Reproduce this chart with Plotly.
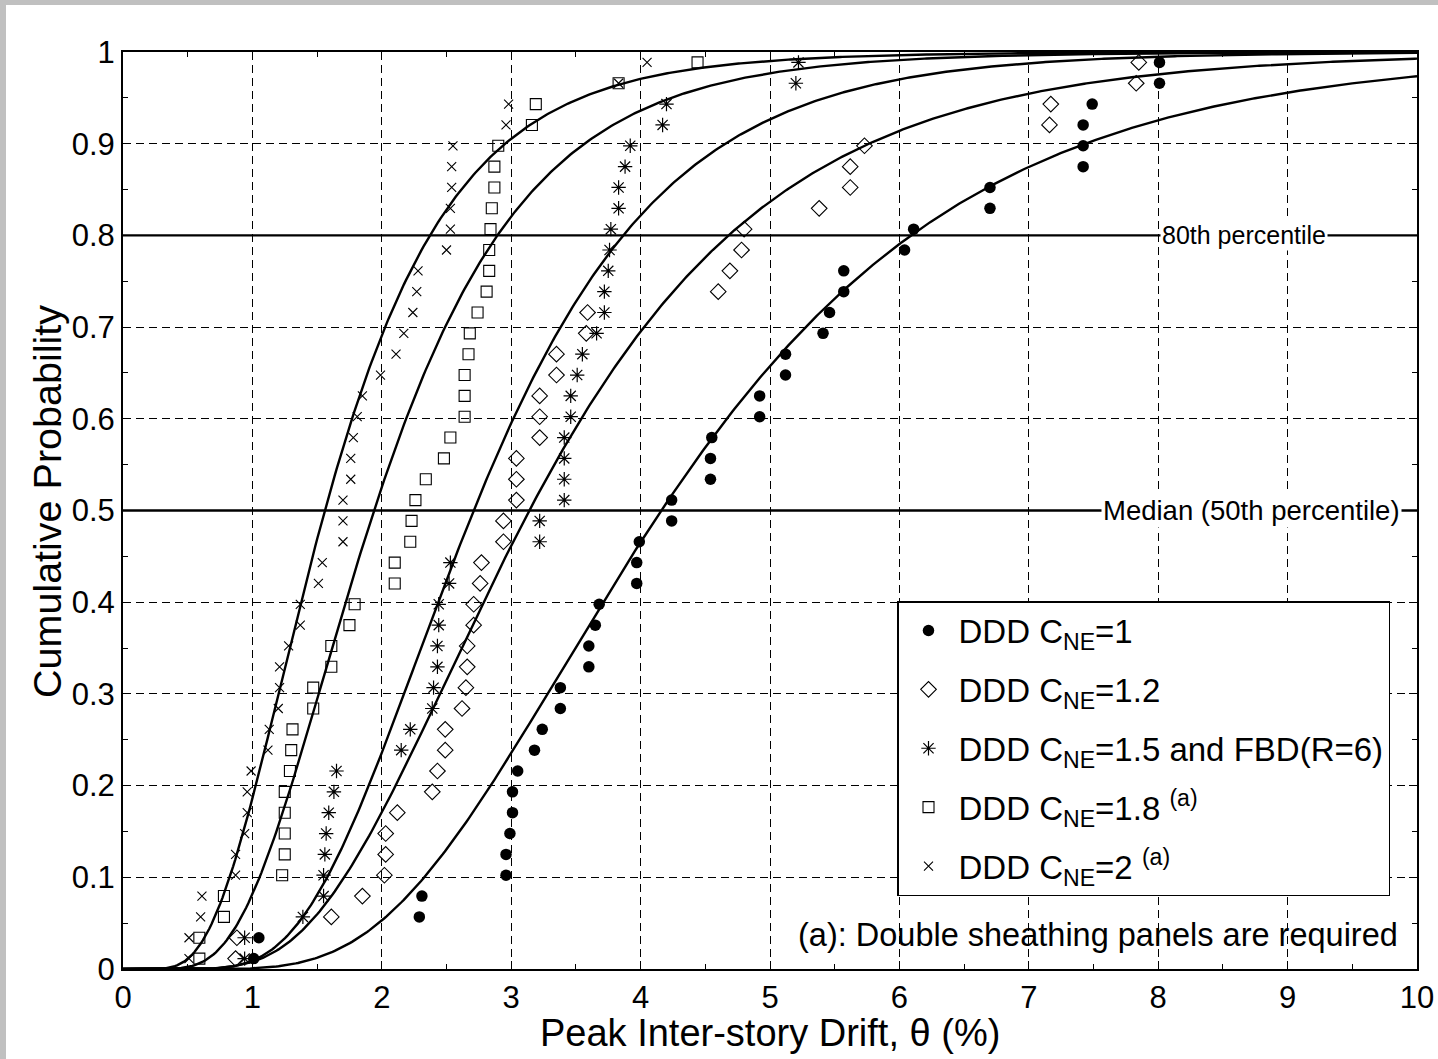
import math
import numpy as np
import plotly.graph_objects as go

# Peak inter-story drift (%) from each of the 44 records, sorted, per design case
drift_cne_1 = [1.01, 1.05, 2.29, 2.31, 2.96, 2.96, 2.99, 3.01, 3.01, 3.05, 3.18, 3.24,
               3.38, 3.38, 3.60, 3.60, 3.65, 3.68, 3.97, 3.97, 3.99, 4.24, 4.24, 4.54,
               4.54, 4.55, 4.92, 4.92, 5.12, 5.12, 5.41, 5.46, 5.57, 5.57, 6.04, 6.11,
               6.70, 6.70, 7.42, 7.42, 7.42, 7.49, 8.01, 8.01]
drift_cne_12 = [0.87, 0.88, 1.61, 1.85, 2.02, 2.03, 2.03, 2.12, 2.39, 2.43, 2.49, 2.49,
                2.62, 2.65, 2.66, 2.66, 2.71, 2.71, 2.76, 2.77, 2.94, 2.94, 3.04, 3.04,
                3.04, 3.22, 3.22, 3.22, 3.35, 3.35, 3.58, 3.59, 4.60, 4.69, 4.78, 4.80,
                5.38, 5.62, 5.62, 5.73, 7.16, 7.17, 7.83, 7.85]
drift_cne_15 = [0.94, 0.94, 1.39, 1.55, 1.55, 1.56, 1.57, 1.59, 1.63, 1.65, 2.15, 2.22,
                2.39, 2.40, 2.43, 2.43, 2.44, 2.44, 2.52, 2.53, 3.22, 3.22, 3.41, 3.41,
                3.41, 3.41, 3.46, 3.46, 3.51, 3.55, 3.66, 3.72, 3.72, 3.75, 3.76, 3.77,
                3.83, 3.83, 3.88, 3.92, 4.17, 4.20, 5.20, 5.22]
drift_cne_18 = [0.59, 0.59, 0.78, 0.78, 1.23, 1.25, 1.25, 1.25, 1.25, 1.29, 1.30, 1.31,
                1.47, 1.47, 1.61, 1.61, 1.75, 1.79, 2.10, 2.10, 2.22, 2.23, 2.26, 2.34,
                2.48, 2.53, 2.64, 2.64, 2.64, 2.67, 2.68, 2.74, 2.81, 2.83, 2.83, 2.84,
                2.85, 2.87, 2.87, 2.90, 3.16, 3.19, 3.83, 4.44]
drift_cne_2 = [0.51, 0.51, 0.60, 0.61, 0.87, 0.87, 0.94, 0.96, 0.96, 0.99, 1.12, 1.13,
               1.20, 1.21, 1.21, 1.28, 1.37, 1.37, 1.51, 1.54, 1.70, 1.70, 1.70, 1.76,
               1.76, 1.78, 1.81, 1.85, 1.99, 2.11, 2.17, 2.24, 2.27, 2.28, 2.50, 2.53,
               2.53, 2.54, 2.54, 2.55, 2.96, 2.98, 3.83, 4.05]

series_names = [
    "DDD C<sub>NE</sub>=1",
    "DDD C<sub>NE</sub>=1.2",
    "DDD C<sub>NE</sub>=1.5 and FBD(R=6)",
    "DDD C<sub>NE</sub>=1.8 <sup>(a)</sup>",
    "DDD C<sub>NE</sub>=2 <sup>(a)</sup>",
]
series_drifts = [drift_cne_1, drift_cne_12, drift_cne_15, drift_cne_18, drift_cne_2]

# Fitted lognormal fragility parameters (median drift %, dispersion)
fit_median = [4.16, 3.14, 2.71, 1.94, 1.56]
fit_beta = [0.453, 0.474, 0.422, 0.475, 0.498]

# Reference probability levels and their labels
percentile_levels = [0.8, 0.5]
percentile_labels = ["80th percentile", "Median (50th percentile)"]
percentile_label_x = [8.66, 8.72]
percentile_label_size = [25, 27.5]

x_ticks = list(range(0, 11))
y_ticks = [round(0.1 * i, 1) for i in range(11)]
y_ticktext = ["0", "0.1", "0.2", "0.3", "0.4", "0.5", "0.6", "0.7", "0.8", "0.9", "1"]

FONT = "Liberation Sans, Arial, Helvetica, sans-serif"

marker_styles = [
    dict(symbol="circle", size=11.5, color="black", line=dict(width=0)),
    dict(symbol="diamond-open", size=12, color="black", line=dict(width=1.1, color="black")),
    dict(symbol="asterisk-open", size=12, color="black", line=dict(width=1.2, color="black")),
    dict(symbol="square-open", size=11, color="black", line=dict(width=1.1, color="#222")),
    dict(symbol="x-thin-open", size=9, color="black", line=dict(width=1.1, color="black")),
]


def lognormal_cdf(x, median, beta):
    out = []
    for v in x:
        if v <= 0:
            out.append(0.0)
        else:
            z = math.log(v / median) / beta
            out.append(0.5 * (1.0 + math.erf(z / math.sqrt(2.0))))
    return out


fig = go.Figure()

# Fitted lognormal CDF curves
x_fit = np.linspace(0.0, 10.0, 600)
for m, b in zip(fit_median, fit_beta):
    fig.add_trace(go.Scatter(
        x=x_fit, y=lognormal_cdf(x_fit, m, b), mode="lines",
        line=dict(color="black", width=2.4), showlegend=False, hoverinfo="skip"))

# Horizontal reference lines at the median and 80th percentile
for lvl in percentile_levels:
    fig.add_trace(go.Scatter(
        x=[0, 10], y=[lvl, lvl], mode="lines",
        line=dict(color="black", width=2.4), showlegend=False, hoverinfo="skip"))

# Empirical CDFs (plotting position (i - 0.5) / n)
for i, (name, drifts) in enumerate(zip(series_names, series_drifts)):
    d = np.sort(np.asarray(drifts))
    n = len(d)
    prob = (np.arange(1, n + 1) - 0.5) / n
    fig.add_trace(go.Scatter(
        x=d, y=prob, mode="markers", name=name,
        marker=marker_styles[i], legendgroup=f"g{i}"))

# Labels sitting on the reference lines
for lvl, txt, lx, fs in zip(percentile_levels, percentile_labels, percentile_label_x,
                            percentile_label_size):
    fig.add_annotation(x=lx, y=lvl, xref="x", yref="y", text=txt, showarrow=False,
                       font=dict(family=FONT, size=fs, color="black"),
                       bgcolor="white", borderpad=1, xanchor="center", yanchor="middle")

fig.add_annotation(x=9.87, y=0.037, xref="x", yref="paper",
                   text="(a): Double sheathing panels are required", showarrow=False,
                   font=dict(family=FONT, size=32.5, color="black"),
                   xanchor="right", yanchor="middle")

W, H = 1438, 1059
L, R, T, B = 123, 21, 52, 90
pw = W - L - R
ph = H - T - B

# Axis titles
fig.add_annotation(x=0.5, y=-(1033 - (H - B)) / ph, xref="paper", yref="paper",
                   text="Peak Inter-story Drift, \u03b8 (%)", showarrow=False,
                   font=dict(family=FONT, size=38, color="black"),
                   xanchor="center", yanchor="middle")
fig.add_annotation(x=(47 - L) / pw, y=((H - B) - 502) / ph, xref="paper", yref="paper",
                   text="Cumulative Probability", showarrow=False, textangle=-90,
                   font=dict(family=FONT, size=39.5, color="black"),
                   xanchor="center", yanchor="middle")

# Light gray frame strip on the left and top edges of the canvas
fig.add_shape(type="rect", xref="paper", yref="paper",
              x0=-L / pw, x1=(6 - L) / pw, y0=-B / ph, y1=(H - B) / ph,
              fillcolor="#c0c0c0", line=dict(width=0), layer="below")
fig.add_shape(type="rect", xref="paper", yref="paper",
              x0=-L / pw, x1=(W - L) / pw, y0=(H - B - 5) / ph, y1=(H - B) / ph,
              fillcolor="#c0c0c0", line=dict(width=0), layer="below")

axis_common = dict(
    showline=True, linecolor="black", linewidth=2, mirror="ticks",
    ticks="inside", ticklen=8, tickwidth=1, tickcolor="black",
    showgrid=True, gridcolor="black", gridwidth=1, griddash="8px,5px",
    zeroline=False,
    tickfont=dict(family=FONT, size=31, color="black"),
)

fig.update_xaxes(
    range=[0, 10], tickvals=x_ticks, ticktext=[str(v) for v in x_ticks],
    minor=dict(ticks="inside", dtick=0.5, ticklen=5, tickcolor="black", showgrid=False),
    **axis_common)
fig.update_yaxes(
    range=[0, 1], tickvals=y_ticks, ticktext=y_ticktext,
    minor=dict(ticks="inside", dtick=0.05, ticklen=5, tickcolor="black", showgrid=False),
    **axis_common)

fig.update_layout(
    width=W, height=H,
    margin=dict(l=L, r=R, t=T, b=B, autoexpand=False),
    paper_bgcolor="white", plot_bgcolor="white",
    showlegend=True,
    legend=dict(
        x=(897 - L) / pw, y=(969 - 601) / ph, xanchor="left", yanchor="top",
        bgcolor="white", bordercolor="black", borderwidth=1.5,
        font=dict(family=FONT, size=33, color="black"),
        tracegroupgap=13, itemsizing="trace", itemwidth=50,
    ),
)

fig.write_html("out.html")
